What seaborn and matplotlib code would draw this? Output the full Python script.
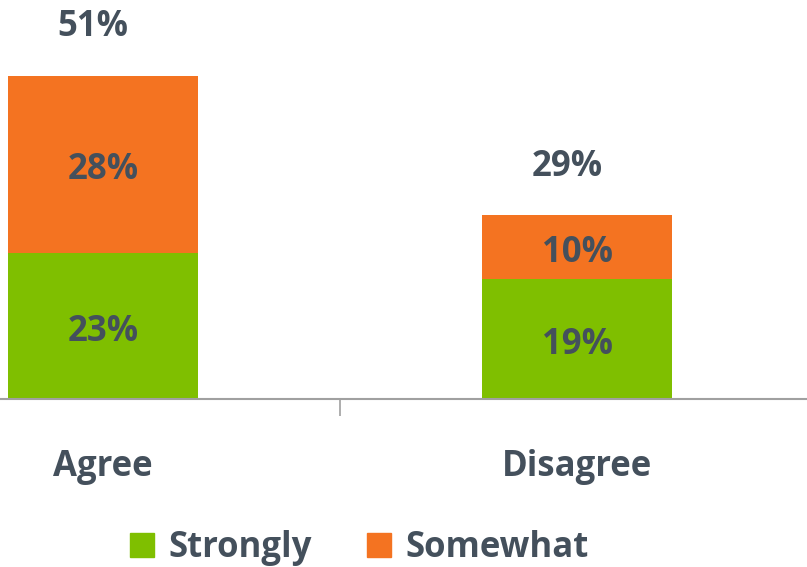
import pandas as pd
import seaborn as sns
from matplotlib import pyplot as plt
from matplotlib.patches import Patch

categories = ["Agree", "Disagree"]
strongly = [23, 19]
somewhat = [28, 10]
series_names = ["Strongly", "Somewhat"]

GREEN = "#7FBF00"
ORANGE = "#F47321"
TEXT = "#44505C"


def main() -> None:
    df = pd.DataFrame({"category": categories, "strongly": strongly, "somewhat": somewhat})
    df["total"] = df["strongly"] + df["somewhat"]

    sns.set_theme(style="white")
    plt.rcParams["font.family"] = ["Open Sans", "DejaVu Sans"]

    fig = plt.figure(figsize=(8.07, 5.67), dpi=100)
    ax = fig.add_axes([0, 0.296, 1, 0.704])

    # stacked: total in orange, strongly on top of it in green
    sns.barplot(data=df, x="category", y="total", color=ORANGE, width=0.4,
                saturation=1, ax=ax, edgecolor="none")
    sns.barplot(data=df, x="category", y="strongly", color=GREEN, width=0.4,
                saturation=1, ax=ax, edgecolor="none")

    font = dict(fontsize=25, fontweight="bold", color=TEXT, ha="center", va="center")
    for i, row in df.iterrows():
        ax.text(i, row["strongly"] / 2 - 0.9, f"{row['strongly']}%", **font)
        ax.text(i, row["strongly"] + row["somewhat"] / 2 - 0.9, f"{row['somewhat']}%", **font)
        # totals sit a little left of the bar centre in the original
        ax.text(i - 0.021, row["total"] + 7.7, f"{row['total']}%", **font)
        ax.text(i, -10.7, row["category"], **font)

    ax.set_xlim(-0.217, 1.485)
    ax.set_ylim(0, 63)
    ax.set_xlabel("")
    ax.set_ylabel("")
    ax.set_yticks([])
    ax.set_xticks([0.5])
    ax.set_xticklabels([])
    ax.tick_params(axis="x", length=12, width=1.2, color="#A0A0A0", bottom=True)
    for side in ["top", "right", "left"]:
        ax.spines[side].set_visible(False)
    ax.spines["bottom"].set_color("#A0A0A0")
    ax.spines["bottom"].set_linewidth(1.5)

    handles = [Patch(color=GREEN), Patch(color=ORANGE)]
    leg = fig.legend(handles, series_names, loc="center", bbox_to_anchor=(0.445, 0.033),
                     ncol=2, frameon=False, handlelength=0.7, handleheight=0.7,
                     handletextpad=0.4, columnspacing=1.6,
                     prop=dict(size=25, weight="bold"))
    for t in leg.get_texts():
        t.set_color(TEXT)

    fig.savefig("out.png", dpi=100)
    plt.close(fig)


if __name__ == "__main__":
    main()
